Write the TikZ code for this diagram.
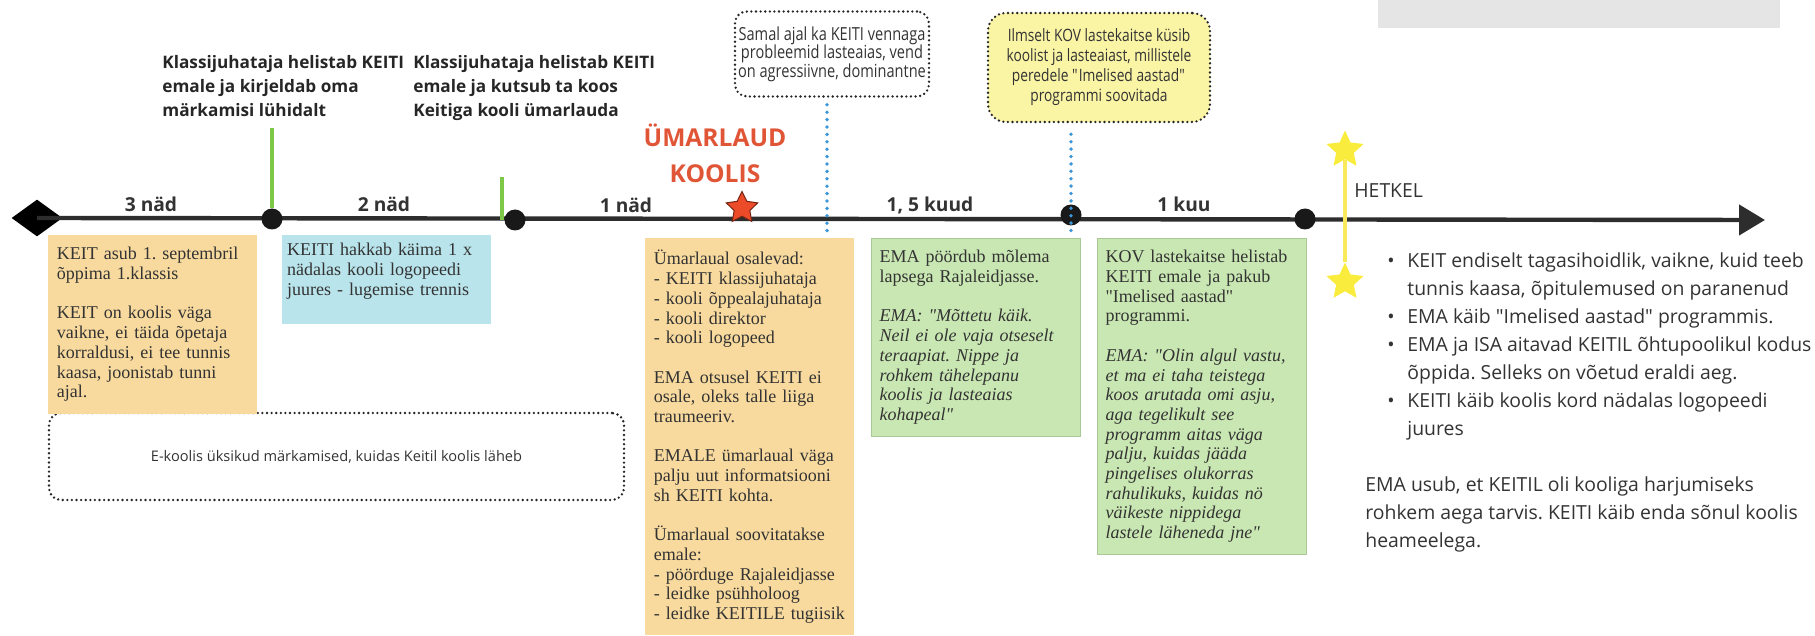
\documentclass[tikz,border=0pt]{standalone}
\usepackage{fontspec}
\setmainfont{Liberation Serif}
\setsansfont{Open Sans}
\newfontfamily\narrowsans[FakeStretch=0.81]{Open Sans}
\usetikzlibrary{shapes.geometric,positioning,arrows.meta}
\definecolor{ink}{RGB}{51,51,51}
\definecolor{axisgray}{RGB}{45,45,45}
\definecolor{noteorange}{RGB}{248,218,158}
\definecolor{noteblue}{RGB}{185,228,235}
\definecolor{notegreen}{RGB}{201,231,178}
\definecolor{greenedge}{RGB}{170,200,150}
\definecolor{noteyellow}{RGB}{250,244,165}
\definecolor{tickgreen}{RGB}{125,200,70}
\definecolor{hintblue}{RGB}{60,150,215}
\definecolor{starred}{RGB}{235,75,40}
\definecolor{umarred}{RGB}{225,85,55}
\definecolor{staryellow}{RGB}{250,236,60}
\definecolor{lineyellow}{RGB}{248,234,90}
\definecolor{boxgray}{RGB}{229,229,229}
\newcommand\dq{\textquotedbl}
\frenchspacing

\begin{document}
\begin{tikzpicture}[x=0.5pt,y=-0.5pt,
    every node/.style={inner sep=0pt},
    note/.style={anchor=north west,text width=96pt,inner xsep=4.25pt,inner ysep=6pt,
      align=left,text=ink,font=\fontsize{9}{9.85}\selectfont},
    dot/.style={circle,fill=black!90,minimum size=10.5pt},
    span/.style={anchor=base,text=ink,font=\sffamily\bfseries\fontsize{9.6}{11}\selectfont},
    call/.style={anchor=north west,align=left,text=black!85,font=\sffamily\bfseries\fontsize{8.6}{12}\selectfont},
    cloud/.style={draw=black!85,line width=1.3pt,dash pattern=on 0pt off 2.3pt,line cap=round,
      rounded corners=6pt,align=center,text=ink,font=\narrowsans\fontsize{9}{9.2}\selectfont},
    tick/.style={draw=tickgreen,line width=1.8pt},
    hint/.style={draw=hintblue,line width=1.9pt,dash pattern=on 0pt off 3.7pt,line cap=round},
    bigstar/.style={star,star points=5,star point ratio=2.1,minimum size=19.5pt,fill=staryellow}]
  \useasboundingbox (0,0) rectangle (1815,636);
  \fill[boxgray] (1378,0) rectangle (1780,28);

  \node[diamond,fill=black,minimum width=25.5pt,minimum height=18.5pt] (start) at (37,218) {};
  \coordinate (tip) at (1765,220);
  \draw[line width=2.2pt,axisgray,-{Triangle[length=13pt,width=15pt]}] (start.center) -- (tip);

  \node[dot] (call1) at (272,219) {};
  \node[dot] (call2) at (515,220) {};
  \node[dot] (split) at (1071,215) {};
  \node[dot] (offer) at (1305,219) {};
  \node[star,star points=5,star point ratio=2,minimum size=16.5pt,fill=starred,
    draw=starred!50!black,line width=0.5pt] (meet) at (742,208) {};
  \node[bigstar] (nowtop) at (1345,150) {};
  \node[bigstar] (nowbot) at (1345,282) {};

  \node[span] (w3) at (151,212) {3 näd};
  \node[span] (w2) at (384,212) {2 näd};
  \node[span] (w1) at (626,213) {1 näd};
  \node[span] (m15) at (930,212) {1, 5 kuud};
  \node[span] (m1) at (1184,212) {1 kuu};
  \node[anchor=base west,text=ink,font=\sffamily\fontsize{9.7}{12}\selectfont] (now) at (1354,198) {HETKEL};
  \node[anchor=south,align=center,text=umarred,font=\sffamily\bfseries\fontsize{12.3}{18}\selectfont]
    (umartitle) at (715,183) {ÜMARLAUD\\KOOLIS};

  \node[call] (note1) at (162,55) {Klassijuhataja helistab KEITI\\emale ja kirjeldab oma\\märkamisi lühidalt};
  \node[call] (note2) at (413,55) {Klassijuhataja helistab KEITI\\emale ja kutsub ta koos\\Keitiga kooli ümarlauda};

  \node[cloud,minimum width=97pt,minimum height=42.5pt] (samal) at (832,54)
    {Samal ajal ka KEITI vennaga\\probleemid lasteaias, vend\\on agressiivne, dominantne};
  \node[cloud,fill=noteyellow,rounded corners=9pt,minimum width=111pt,minimum height=54.5pt,
    font=\narrowsans\fontsize{8.5}{10}\selectfont] (ilmselt) at (1099,67.5)
    {Ilmselt KOV lastekaitse küsib\\koolist ja lasteaiast, millistele\\peredele \dq Imelised aastad\dq\\programmi soovitada};
  \node[cloud,minimum width=287.5pt,minimum height=43.5pt,font=\sffamily\fontsize{7.3}{9}\selectfont]
    (ekool) at (336.5,456.5) {E-koolis üksikud märkamised, kuidas Keitil koolis läheb};

  \node[note,fill=noteorange] (kool) at (48,235)
    {KEIT asub 1. septembril\\õppima 1.klassis\\[9.85pt]
     KEIT on koolis väga\\vaikne, ei täida õpetaja\\korraldusi, ei tee tunnis\\kaasa, joonistab tunni\\ajal.};
  \node[note,fill=noteblue,text width=99.5pt,inner xsep=2.5pt,inner ysep=4pt,text depth=30pt,
    right=12pt of kool.north east,anchor=north west] (logo)
    {KEITI hakkab käima 1 x\\nädalas kooli logopeedi\\juures - lugemise trennis};
  \node[note,fill=noteorange] (umar) at (645,238)
    {Ümarlaual osalevad:\\- KEITI klassijuhataja\\- kooli õppealajuhataja\\- kooli direktor\\- kooli logopeed\\[9.85pt]
     EMA otsusel KEITI ei\\osale, oleks talle liiga\\traumeeriv.\\[9.85pt]
     EMALE ümarlaual väga\\palju uut informatsiooni\\sh KEITI kohta.\\[9.85pt]
     Ümarlaual soovitatakse\\emale:\\- pöörduge Rajaleidjasse\\- leidke psühholoog\\- leidke KEITILE tugiisik\\[4pt]};
  \node[note,fill=notegreen,draw=greenedge,line width=0.4pt,right=8pt of umar.north east,anchor=north west] (raja)
    {EMA pöördub mõlema\\lapsega Rajaleidjasse.\\[9.85pt]
     \itshape EMA: \dq Mõttetu käik.\\Neil ei ole vaja otseselt\\teraapiat. Nippe ja\\rohkem tähelepanu\\koolis ja lasteaias\\kohapeal\dq};
  \node[note,fill=notegreen,draw=greenedge,line width=0.4pt,right=8pt of raja.north east,anchor=north west] (kov)
    {KOV lastekaitse helistab\\KEITI emale ja pakub\\\dq Imelised aastad\dq\\programmi.\\[9.85pt]
     \itshape EMA: \dq Olin algul vastu,\\et ma ei taha teistega\\koos arutada omi asju,\\aga tegelikult see\\programm aitas väga\\palju, kuidas jääda\\pingelises olukorras\\rahulikuks, kuidas nö\\väikeste nippidega\\lastele läheneda jne\dq};

  \node[anchor=north west,align=left,text=ink,font=\sffamily\fontsize{9.7}{14}\selectfont] (summary) at (1365,252.5)
    {\hspace*{11pt}\makebox[10pt][l]{\textbullet}KEIT endiselt tagasihoidlik, vaikne, kuid teeb\\
     \hspace*{21pt}tunnis kaasa, õpitulemused on paranenud\\
     \hspace*{11pt}\makebox[10pt][l]{\textbullet}EMA käib \dq Imelised aastad\dq{} programmis.\\
     \hspace*{11pt}\makebox[10pt][l]{\textbullet}EMA ja ISA aitavad KEITIL õhtupoolikul kodus\\
     \hspace*{21pt}õppida. Selleks on võetud eraldi aeg.\\
     \hspace*{11pt}\makebox[10pt][l]{\textbullet}KEITI käib koolis kord nädalas logopeedi\\
     \hspace*{21pt}juures\\[14pt]
     EMA usub, et KEITIL oli kooliga harjumiseks\\
     rohkem aega tarvis. KEITI käib enda sõnul koolis\\
     heameelega.};

  \coordinate (top1) at (272,128);
  \coordinate (top2) at (502,177);
  \coordinate (foot2) at (502,220);
  \coordinate (hint1) at (827,234);
  \coordinate (hint2) at (1071,234);
  \path[tick] (top1) edge (call1) (top2) edge (foot2);
  \path[hint] (hint1 |- samal.south) ++(0,7) edge (hint1)
              (hint2 |- ilmselt.south) ++(0,11) edge (hint2);
  \path[draw=lineyellow,line width=1.6pt] (nowtop) edge (nowbot);
\end{tikzpicture}
\end{document}
